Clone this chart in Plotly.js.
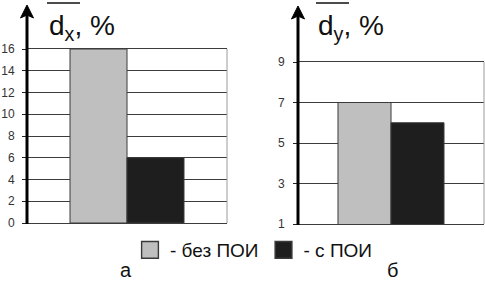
<!DOCTYPE html>
<html>
<head>
<meta charset="utf-8">
<script src="https://cdn.plot.ly/plotly-3.0.1.min.js"></script>
<style>html,body{margin:0;padding:0;background:#fff;}#chart{width:485px;height:283px;}</style>
</head>
<body>
<div id="chart"></div>
<script>
// ---- data ----
const categories = ['Σ'];
const seriesNames = ['- без ПОИ', '- с ПОИ'];
const seriesColors = ['#bfbfbf', '#1e1e1e'];
const dxValues = [16, 6];
const dyValues = [7, 6];
const dxTickVals = [0, 2, 4, 6, 8, 10, 12, 14, 16];
const dyTickVals = [1, 3, 5, 7, 9];
const dxRange = [0, 16];
const dyRange = [1, 9];
const panelLabels = ['а', 'б'];
const axisTitles = ['d<sub>x</sub>, %', 'd<sub>y</sub>, %'];

// ---- layout helpers (pixel -> paper) ----
const W = 485, H = 283;
const px = x => x / W;
const py = y => 1 - y / H;
const FONT = 'Liberation Sans, Arial, sans-serif';

const traces = [];
seriesNames.forEach((name, i) => {
  traces.push({
    type: 'bar', x: categories, y: [dxValues[i]], name: name,
    xaxis: 'x', yaxis: 'y', showlegend: true,
    marker: {color: seriesColors[i], line: {color: '#3a3a3a', width: 1}}
  });
});
seriesNames.forEach((name, i) => {
  traces.push({
    type: 'bar', x: categories, y: [dyValues[i]], name: name,
    xaxis: 'x2', yaxis: 'y2', showlegend: false,
    marker: {color: seriesColors[i], line: {color: '#3a3a3a', width: 1}}
  });
});

const yCommon = {
  showgrid: true, gridcolor: '#3c3c3c', gridwidth: 1,
  zeroline: false, showline: false,
  ticks: 'outside', ticklen: 4, tickcolor: '#222', tickwidth: 1,
  tickfont: {family: FONT, size: 12, color: '#333'},
  fixedrange: true
};
const xCommon = {
  showgrid: false, zeroline: false, showticklabels: false, ticks: '',
  showline: true, mirror: true, linecolor: '#3c3c3c', linewidth: 1, fixedrange: true
};

const L = {x0: 27, x1: 227, top: 49, bot: 223};
const R = {x0: 298, x1: 484, top: 62, bot: 224};

function arrowShapes(ax, bot, apex) {
  return [
    {type: 'line', xref: 'paper', yref: 'paper', x0: px(ax), x1: px(ax), y0: py(bot + 1), y1: py(apex + 8),
     line: {color: '#000', width: 3}},
    {type: 'path', xref: 'paper', yref: 'paper',
     path: `M ${px(ax)},${py(apex)} L ${px(ax - 6.5)},${py(apex + 13)} L ${px(ax)},${py(apex + 10)} L ${px(ax + 6.5)},${py(apex + 13)} Z`,
     fillcolor: '#000', line: {color: '#000', width: 1}}
  ];
}

const shapes = [].concat(
  arrowShapes(L.x0, L.bot, 5),
  arrowShapes(R.x0, R.bot, 6),
  [
    {type: 'line', xref: 'paper', yref: 'paper', x0: px(L.x1), x1: px(L.x1), y0: py(L.bot), y1: py(L.top),
     line: {color: '#9a9a9a', width: 1}},
    {type: 'line', xref: 'paper', yref: 'paper', x0: px(R.x1), x1: px(R.x1), y0: py(R.bot), y1: py(R.top),
     line: {color: '#9a9a9a', width: 1}},
    {type: 'line', xref: 'paper', yref: 'paper', x0: px(47), x1: px(80), y0: py(3), y1: py(3),
     line: {color: '#111', width: 1.5}},
    {type: 'line', xref: 'paper', yref: 'paper', x0: px(316), x1: px(349), y0: py(3), y1: py(3),
     line: {color: '#111', width: 1.5}}
  ]
);

const annotations = [
  {text: axisTitles[0], xref: 'paper', yref: 'paper', x: px(47), y: py(27), xanchor: 'left', yanchor: 'middle',
   showarrow: false, font: {family: FONT, size: 28, color: '#111'}},
  {text: axisTitles[1], xref: 'paper', yref: 'paper', x: px(316), y: py(27), xanchor: 'left', yanchor: 'middle',
   showarrow: false, font: {family: FONT, size: 28, color: '#111'}},
  {text: panelLabels[0], xref: 'paper', yref: 'paper', x: px(126), y: 0, xanchor: 'center', yanchor: 'bottom',
   showarrow: false, font: {family: FONT, size: 20, color: '#111'}},
  {text: panelLabels[1], xref: 'paper', yref: 'paper', x: px(392), y: 0, xanchor: 'center', yanchor: 'bottom',
   showarrow: false, font: {family: FONT, size: 20, color: '#111'}}
];

const layout = {
  width: W, height: H,
  margin: {l: 0, r: 0, t: 0, b: 0},
  paper_bgcolor: '#fff', plot_bgcolor: '#fff',
  barmode: 'group', bargap: 0.43, bargroupgap: 0,
  font: {family: FONT},
  xaxis: Object.assign({}, xCommon, {domain: [px(L.x0), px(L.x1)], anchor: 'y'}),
  yaxis: Object.assign({}, yCommon, {domain: [py(L.bot), py(L.top)], range: dxRange,
    tickvals: dxTickVals, ticktext: dxTickVals.map(String), anchor: 'x', ticklabelstandoff: 5}),
  xaxis2: Object.assign({}, xCommon, {domain: [px(R.x0), px(R.x1)], anchor: 'y2'}),
  yaxis2: Object.assign({}, yCommon, {domain: [py(R.bot), py(R.top)], range: dyRange,
    tickvals: dyTickVals, ticktext: dyTickVals.map(String), anchor: 'x2', ticklabelstandoff: 6}),
  showlegend: true,
  legend: {orientation: 'h', x: px(130), y: py(250), xanchor: 'left', yanchor: 'middle',
    font: {family: FONT, size: 19, color: '#111'}, bgcolor: 'rgba(0,0,0,0)', itemclick: false, itemdoubleclick: false},
  shapes: shapes,
  annotations: annotations
};

Plotly.newPlot('chart', traces, layout, {staticPlot: true, displayModeBar: false}).then(gd => {
  // enlarge the legend swatches to match the reference's bigger squares
  gd.querySelectorAll('.legendpoints .legendbar, .legendpoints path').forEach(p => {
    const t = p.getAttribute('transform') || '';
    p.setAttribute('transform', t + ' scale(1.4)');
  });
});
</script>
</body>
</html>
